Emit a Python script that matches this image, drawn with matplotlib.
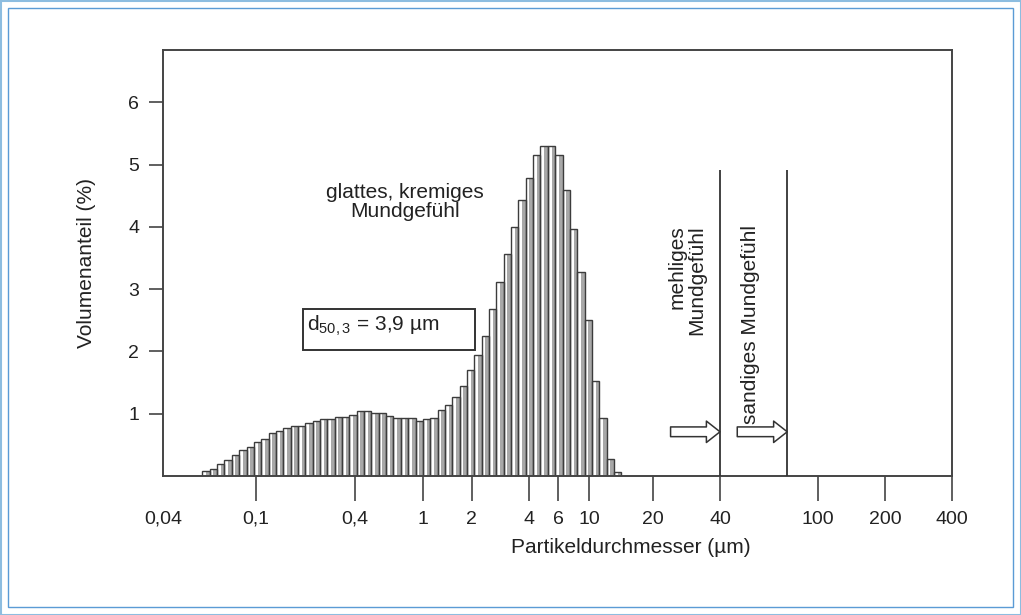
import numpy as np
import matplotlib
matplotlib.use('Agg')
import matplotlib.pyplot as plt
from matplotlib.patches import Rectangle
from matplotlib.ticker import FixedLocator, FixedFormatter

plt.rcParams['font.family'] = ['Liberation Sans', 'DejaVu Sans']
plt.rcParams['mathtext.fontset'] = 'custom'
plt.rcParams['mathtext.rm'] = 'Liberation Sans'

# volume fraction per size class (%), small to large particles
vol = [0.08, 0.12, 0.20, 0.26, 0.34, 0.42, 0.46, 0.55, 0.59, 0.69,
       0.73, 0.77, 0.80, 0.80, 0.85, 0.89, 0.91, 0.91, 0.95, 0.95,
       0.98, 1.05, 1.05, 1.01, 1.01, 0.97, 0.93, 0.93, 0.93, 0.89,
       0.91, 0.93, 1.06, 1.14, 1.27, 1.44, 1.70, 1.94, 2.25, 2.68,
       3.11, 3.57, 4.00, 4.43, 4.78, 5.16, 5.30, 5.30, 5.16, 4.60,
       3.96, 3.28, 2.50, 1.53, 0.93, 0.28, 0.07]
# smallest / largest class boundary (um)
d_min = 0.059
d_max = 14.2

# x-axis tick values (um) and labels; the printed axis is not a clean log
# scale, so each label gets its own place along the axis (0..1)
x_ticks = [0.04, 0.1, 0.4, 1, 2, 4, 6, 10, 20, 40, 100, 200, 400]
x_labels = ['0,04', '0,1', '0,4', '1', '2', '4', '6', '10', '20', '40', '100', '200', '400']
x_tick_frac = [0.0, 0.1179, 0.2433, 0.3295, 0.3916, 0.4639, 0.5006, 0.5399,
               0.6210, 0.7060, 0.8302, 0.9151, 1.0]

# mouthfeel limits (um)
limits = [40, 75]

log_t = np.log10(x_ticks)


def fwd(x):
    x = np.clip(np.asarray(x, dtype=float), 1e-9, None)
    return np.interp(np.log10(x), log_t, x_tick_frac)


def inv(f):
    return 10 ** np.interp(np.asarray(f, dtype=float), x_tick_frac, log_t)


fig = plt.figure(figsize=(10.21, 6.15), dpi=100)
ax = fig.add_axes([0.1596, 0.2260, 0.7728, 0.6927])
ax.set_xscale('function', functions=(fwd, inv))

# size classes are drawn as equal-width columns along the axis
f_edges = np.linspace(fwd(d_min), fwd(d_max), len(vol) + 1)
edges = inv(f_edges)
ax.bar(edges[:-1], vol, width=np.diff(edges), align='edge',
       color='white', linewidth=0, zorder=1.4)
# grey shading in the right half of each column
mid = inv((f_edges[:-1] + f_edges[1:]) / 2)
ax.bar(mid, vol, width=edges[1:] - mid, align='edge',
       color='#a8a8a8', linewidth=0, zorder=1.5)
ax.bar(edges[:-1], vol, width=np.diff(edges), align='edge',
       fill=False, edgecolor='#3c3c3c', linewidth=1.0, zorder=2.5)

ax.set_xlim(0.04, 400)
ax.set_ylim(0, 6.84)

ax.xaxis.set_major_locator(FixedLocator(x_ticks))
ax.xaxis.set_major_formatter(FixedFormatter(x_labels))
ax.xaxis.set_minor_locator(FixedLocator([]))
ax.set_yticks([1, 2, 3, 4, 5, 6])
ax.tick_params(axis='x', direction='out', length=18, width=1.2, color='#444444',
               labelsize=14, pad=7, labelcolor='#222222')
ax.tick_params(axis='y', direction='out', length=10, width=1.2, color='#444444',
               labelsize=14, pad=7, labelcolor='#222222')
ax.xaxis.get_major_ticks()[0].tick1line.set_visible(False)
for s in ax.spines.values():
    s.set_linewidth(1.4)
    s.set_color('#444444')

ax.set_xlabel('Partikeldurchmesser (µm)', fontsize=15, color='#222222')
ax.xaxis.set_label_coords(0.593, -0.146)
ax.set_ylabel('Volumenanteil (%)', fontsize=15, color='#222222')
ax.yaxis.set_label_coords(-0.085, 0.5)

# limit lines with hollow arrows
ax.vlines(limits, 0, 4.91, color='#333333', linewidth=1.3, zorder=3)
arrow_kw = dict(arrowstyle='simple,head_length=0.7,head_width=1.1,tail_width=0.5',
                fc='white', ec='#333333', lw=1.1, shrinkA=0, shrinkB=0, mutation_scale=14)
ax.annotate('', xy=(limits[0], 0.71), xytext=(24, 0.71), arrowprops=arrow_kw)
ax.annotate('', xy=(limits[1], 0.71), xytext=(47, 0.71), arrowprops=arrow_kw)

ax.text(28.4, 4.03, 'mehliges\nMundgefühl', rotation=90, ha='center', va='top',
        multialignment='right', fontsize=15, linespacing=1.05, color='#222222')
ax.text(53, 4.03, 'sandiges Mundgefühl', rotation=90, ha='center', va='top',
        fontsize=15, color='#222222')
ax.text(0.785, 4.40, 'glattes, kremiges\nMundgefühl', ha='center', va='center',
        multialignment='center', fontsize=15, linespacing=1.05, color='#222222')

# d50 box
ax.add_patch(Rectangle((0.1774, 0.2958), 0.218, 0.096, transform=ax.transAxes,
                       fill=False, edgecolor='#333333', linewidth=1.4))
ax.text(0.1825, 0.352, r'd$_\mathregular{50,3}$ = 3,9 µm', transform=ax.transAxes,
        ha='left', va='center', fontsize=15, color='#222222')

# blue frame around the figure
fig.patches.append(Rectangle((0.5 / 1021, 0.5 / 615), 1 - 1 / 1021, 1 - 1 / 615,
                             transform=fig.transFigure, fill=False,
                             edgecolor='#8dbde0', linewidth=1.5))
fig.patches.append(Rectangle((8 / 1021, 8 / 615), 1 - 16 / 1021, 1 - 16 / 615,
                             transform=fig.transFigure, fill=False,
                             edgecolor='#5b9bd5', linewidth=1.0))

fig.savefig('out.png', dpi=100)
